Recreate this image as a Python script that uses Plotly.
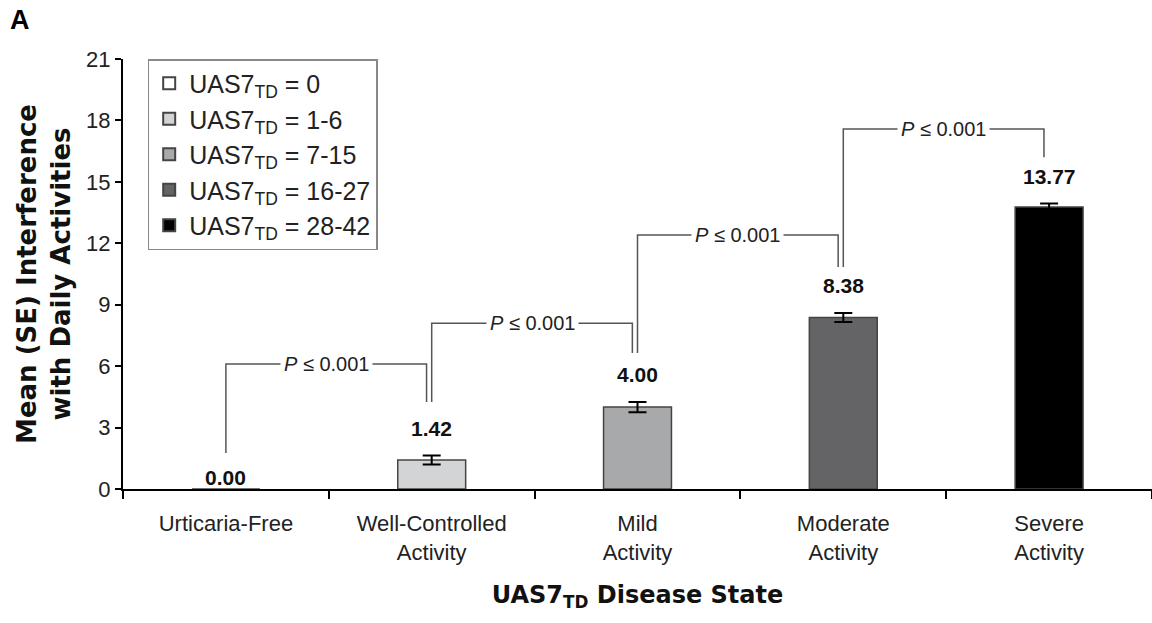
import plotly.graph_objects as go

# ---- data ----
categories = ["Urticaria-Free", "Well-Controlled<br>Activity", "Mild<br>Activity",
              "Moderate<br>Activity", "Severe<br>Activity"]
legend_names = ["UAS7<sub>TD</sub> = 0", "UAS7<sub>TD</sub> = 1-6", "UAS7<sub>TD</sub> = 7-15",
                "UAS7<sub>TD</sub> = 16-27", "UAS7<sub>TD</sub> = 28-42"]
means = [0.00, 1.42, 4.00, 8.38, 13.77]
se = [0.00, 0.22, 0.25, 0.22, 0.17]
value_labels = ["0.00", "1.42", "4.00", "8.38", "13.77"]
bar_colors = ["#ffffff", "#d3d4d6", "#a8a9ab", "#646466", "#000000"]
y_ticks = [0, 3, 6, 9, 12, 15, 18, 21]

# significance brackets (between consecutive categories)
bracket_left = [0, 1, 2, 3]
bracket_left_bottom = [1.76, 4.25, 6.64, 10.84]
bracket_top = [6.10, 8.10, 12.40, 17.58]
bracket_right_bottom = [4.25, 6.64, 10.84, 16.20]
p_text = "<i>P</i> ≤ 0.001"

REG = "Liberation Sans, Arial, sans-serif"
BOLD = "DejaVu Sans, sans-serif"

fig = go.Figure()
for i in range(len(categories)):
    fig.add_trace(go.Bar(
        x=[categories[i]], y=[means[i]], name=legend_names[i],
        marker=dict(color=bar_colors[i], line=dict(color="#444444", width=1.5)),
        width=0.33,
        error_y=dict(type="data", array=[se[i]], visible=se[i] > 0,
                     color="#000000", thickness=2, width=9),
        showlegend=True,
    ))

# value labels
for i in range(len(categories)):
    fig.add_annotation(x=i, y=means[i] + se[i], xref="x", yref="y",
                       text="<b>" + value_labels[i] + "</b>", showarrow=False,
                       yanchor="middle", yshift=27 if se[i] > 0 else 12,
                       font=dict(family=REG, size=21, color="#111111"))

# brackets
for k in range(len(bracket_left)):
    xl = bracket_left[k]
    xr = bracket_left[k] + 1 - 0.025
    fig.add_shape(type="path",
                  path=f"M {xl},{bracket_left_bottom[k]} L {xl},{bracket_top[k]} "
                       f"L {xr},{bracket_top[k]} L {xr},{bracket_right_bottom[k]}",
                  xref="x", yref="y", line=dict(color="#555555", width=1.5))
    fig.add_annotation(x=(xl + xr) / 2, y=bracket_top[k], xref="x", yref="y",
                       text=p_text, showarrow=False, bgcolor="#ffffff",
                       borderpad=3, xanchor="center", yanchor="middle",
                       font=dict(family=REG, size=20, color="#222222"))

# panel letter
fig.add_annotation(x=-0.112, y=1.13, xref="paper", yref="paper", text="<b>A</b>",
                   showarrow=False, xanchor="left", yanchor="top",
                   font=dict(family=REG, size=27, color="#000"))

fig.update_layout(
    width=1152, height=623,
    margin=dict(l=123, r=0, t=59, b=134),
    paper_bgcolor="white", plot_bgcolor="white",
    barmode="overlay",
    font=dict(family=REG, color="#222222"),
    legend=dict(x=0.024, y=1.0, xanchor="left", yanchor="top",
                bordercolor="#888888", borderwidth=1.5, bgcolor="white",
                font=dict(family=REG, size=25, color="#222222"),
                traceorder="normal", itemsizing="constant"),
    xaxis=dict(
        type="category", range=[-0.5, 4.5], tickson="boundaries",
        showline=True, linecolor="#000", linewidth=2,
        ticks="outside", ticklen=8, tickwidth=2, tickcolor="#000",
        showgrid=False, zeroline=False,
        tickfont=dict(family=REG, size=22, color="#222222"),
        ticklabelstandoff=14,
        title=dict(text="<b>UAS7<sub>TD</sub> Disease State</b>",
                   font=dict(family=BOLD, size=24, color="#111111"), standoff=22),
    ),
    yaxis=dict(
        range=[0, 21], tickvals=y_ticks, showline=True, linecolor="#000", linewidth=2,
        ticks="outside", ticklen=6, tickwidth=2, tickcolor="#000",
        showgrid=False, zeroline=False,
        tickfont=dict(family=REG, size=22, color="#222222"),
        title=dict(text="<b>Mean (SE) Interference<br>with Daily Activities</b>",
                   font=dict(family=BOLD, size=26, color="#111111"), standoff=8),
    ),
)

fig.write_html("out.html")
